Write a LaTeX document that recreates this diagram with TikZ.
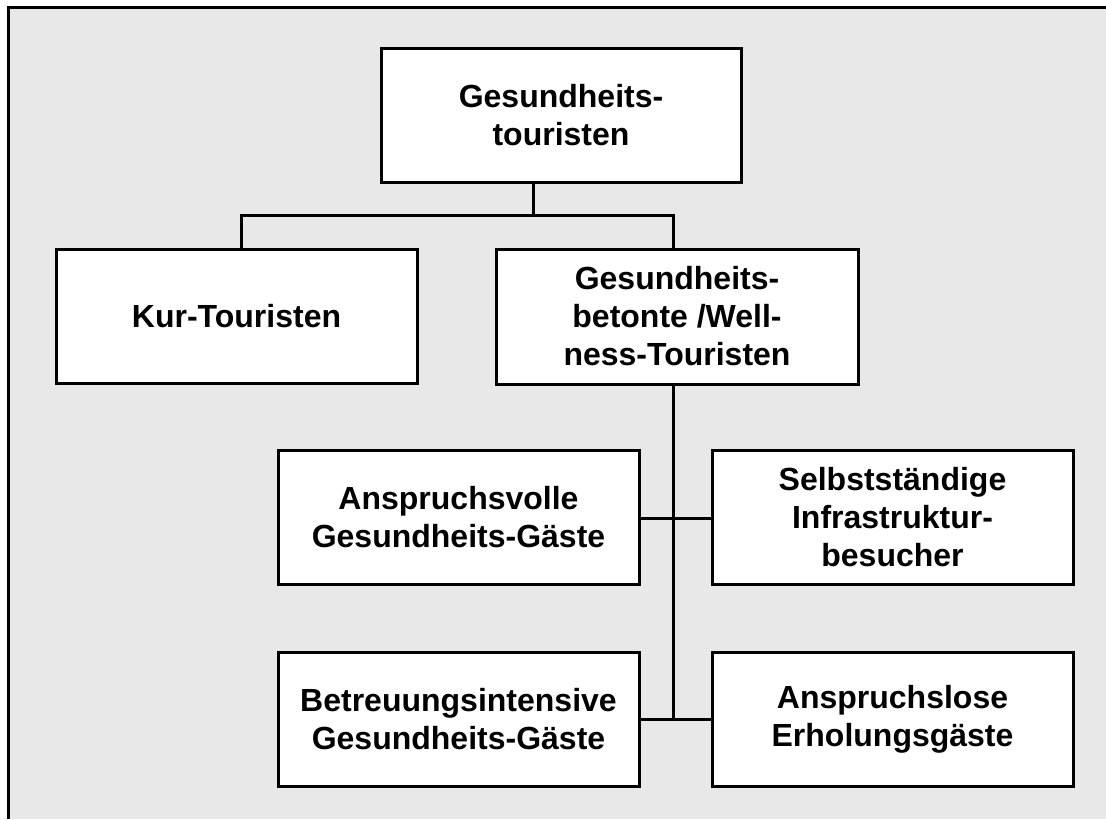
\documentclass[tikz,border=0pt]{standalone}
\usepackage{fontspec}
\setmainfont{Liberation Sans}
\begin{document}
\begin{tikzpicture}[x=0.5pt,y=-0.5pt,
  box/.style={draw=black, fill=white, line width=1.5pt, align=center,
    inner sep=0pt, minimum width=180.5pt, minimum height=67pt,
    font=\fontsize{16}{19}\selectfont\bfseries},
  link/.style={draw=black, line width=1.5pt}]
  \useasboundingbox (0,0) rectangle (1106,819);
  % panel background and its open frame
  \fill[black!9] (8,7) rectangle (1106,819);
  \draw[line width=1.5pt] (1106,7) -- (8,7) -- (8,819);

  % boxes
  \node[box, minimum width=180pt] (top) at (561,115) {Gesundheits-\\touristen};
  \node[box] (kur) at (236.5,316) {Kur-Touristen};
  \node[box, minimum width=181pt, minimum height=67.5pt] (well) at (677,316.5)
    {Gesundheits-\\betonte /Well-\\ness-Touristen};
  \node[box] (avoll) at (458.5,517) {Anspruchsvolle\\Gesundheits-Gäste};
  \node[box] (selbst) at (892.5,517) {Selbstständige\\Infrastruktur-\\besucher};
  \node[box] (betreu) at (458.5,719) {Betreuungsintensive\\Gesundheits-Gäste};
  \node[box] (alos) at (892.5,719) {Anspruchslose\\Erholungsgäste};

  % junction points
  \coordinate (j0) at (533,215);
  \coordinate (jk) at (241,215);
  \coordinate (jw) at (673,215);
  \coordinate (spine) at (673,384);
  \coordinate (m1) at (673,518);
  \coordinate (m2) at (673,719);

  % connectors
  \draw[link] (top.south -| j0) -- (j0);
  \draw[link] (kur.north -| jk) -- (jk) -- (jw) -- (well.north -| jw);
  \draw[link] (well.south -| spine) -- (m2);
  \draw[link] (avoll.east |- m1) -- (selbst.west |- m1);
  \draw[link] (betreu.east |- m2) -- (alos.west |- m2);
\end{tikzpicture}
\end{document}
